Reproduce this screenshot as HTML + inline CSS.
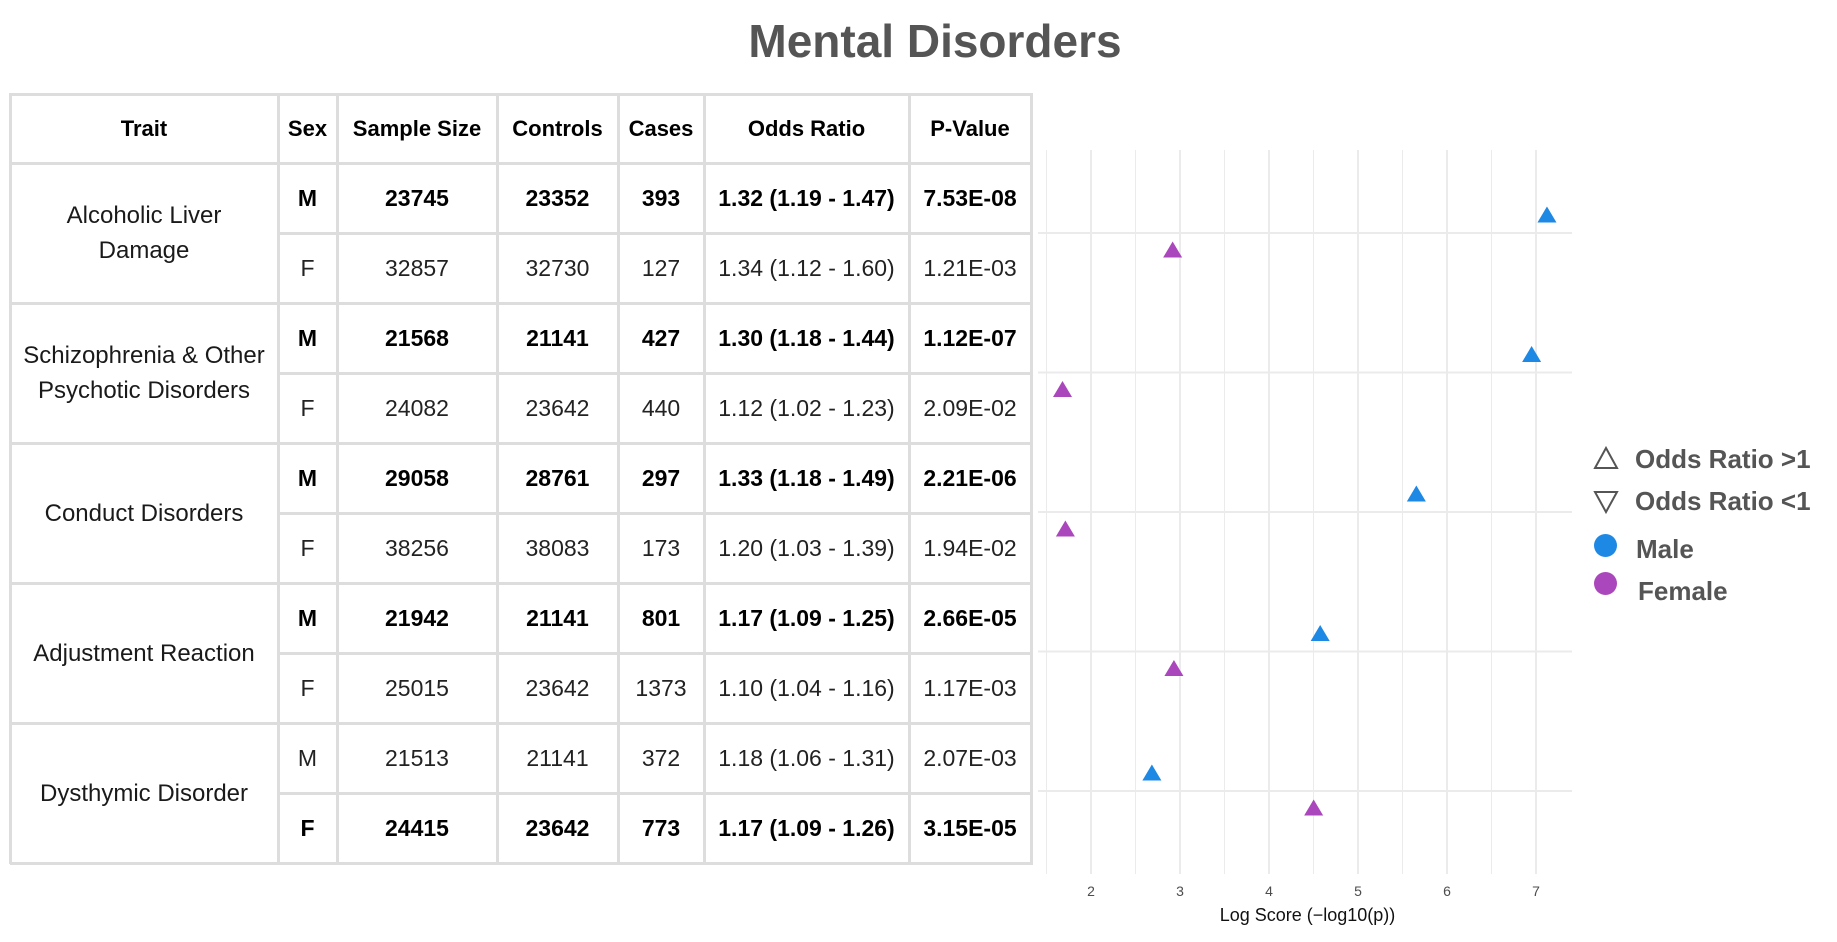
<!DOCTYPE html>
<html><head><meta charset="utf-8">
<style>
html,body{margin:0;padding:0;background:#fff;}
body{width:1837px;height:942px;position:relative;overflow:hidden;font-family:"Liberation Sans",Arial,sans-serif;}
.c{position:absolute;display:flex;align-items:center;justify-content:center;text-align:center;color:#1a1a1a;font-size:23px;box-sizing:border-box;}
.b{font-weight:bold;color:#000;}
.hl{position:absolute;background:#ddd;height:3px;}
.vl{position:absolute;background:#ddd;width:3px;}
</style></head><body>
<div style="position:absolute;left:0;width:1870px;top:14px;text-align:center;font-size:46px;font-weight:bold;color:#555;">Mental Disorders</div>
<div id="tbl"></div>
<svg id="plot" width="1837" height="942" style="position:absolute;left:0;top:0;pointer-events:none;" font-family="Liberation Sans, Arial, sans-serif"></svg>
<div style="position:absolute;left:1590px;top:440px;width:247px;height:170px;color:#555;font-weight:bold;font-size:26px;">
  <div style="position:absolute;left:0;top:0;">
    <svg width="30" height="28" style="position:absolute;left:3px;top:6px"><polygon points="13,2 24,22 2,22" fill="none" stroke="#555" stroke-width="2"/></svg>
    <span style="position:absolute;left:45px;top:4px;white-space:nowrap;">Odds Ratio &gt;1</span></div>
  <div style="position:absolute;left:0;top:42px;">
    <svg width="30" height="28" style="position:absolute;left:3px;top:6px"><polygon points="2,4 24,4 13,24" fill="none" stroke="#555" stroke-width="2"/></svg>
    <span style="position:absolute;left:45px;top:4px;white-space:nowrap;">Odds Ratio &lt;1</span></div>
  <div style="position:absolute;left:0;top:90px;">
    <div style="position:absolute;left:4px;top:4px;width:23px;height:23px;border-radius:50%;background:#1E88E5"></div>
    <span style="position:absolute;left:46px;top:4px;">Male</span></div>
  <div style="position:absolute;left:0;top:130px;">
    <div style="position:absolute;left:4px;top:2px;width:23px;height:23px;border-radius:50%;background:#AB47BC"></div>
    <span style="position:absolute;left:48px;top:6px;">Female</span></div>
</div>
<script>
// ---- data ----
const traits = ["Alcoholic Liver Damage","Schizophrenia & Other Psychotic Disorders","Conduct Disorders","Adjustment Reaction","Dysthymic Disorder"];
const sexes = ["M","F","M","F","M","F","M","F","M","F"];
const sampleSizes = ["23745","32857","21568","24082","29058","38256","21942","25015","21513","24415"];
const controls = ["23352","32730","21141","23642","28761","38083","21141","23642","21141","23642"];
const cases = ["393","127","427","440","297","173","801","1373","372","773"];
const oddsRatios = ["1.32 (1.19 - 1.47)","1.34 (1.12 - 1.60)","1.30 (1.18 - 1.44)","1.12 (1.02 - 1.23)","1.33 (1.18 - 1.49)","1.20 (1.03 - 1.39)","1.17 (1.09 - 1.25)","1.10 (1.04 - 1.16)","1.18 (1.06 - 1.31)","1.17 (1.09 - 1.26)"];
const pValues = ["7.53E-08","1.21E-03","1.12E-07","2.09E-02","2.21E-06","1.94E-02","2.66E-05","1.17E-03","2.07E-03","3.15E-05"];
const boldRows = [true,false,true,false,true,false,true,false,false,true];
const xTicks = [2,3,4,5,6,7];

// ---- table ----
const tbl = document.getElementById('tbl');
const colX = [10,278,337,497,618,704,909,1031];
const top0 = 94, headH = 69, rowH = 70;
const heads = ["Trait","Sex","Sample Size","Controls","Cases","Odds Ratio","P-Value"];
function cell(x0,x1,y0,y1,txt,bold,name){
  const d=document.createElement('div');
  d.className='c'+(bold?' b':'');
  d.style.left=x0+'px';d.style.width=(x1-x0)+'px';d.style.top=y0+'px';d.style.height=(y1-y0)+'px';
  d.textContent=txt;
  
  
  tbl.appendChild(d);return d;
}
heads.forEach((h,i)=>{const d=cell(colX[i],colX[i+1],top0,top0+headH,h,true,'header-'+h.toLowerCase().replace(/\s+/g,'-'));d.style.fontSize='22px';});
const y0r = top0+headH;
traits.forEach((t,i)=>{const d=cell(colX[0]+10,colX[1]-10,y0r+i*2*rowH,y0r+(i+1)*2*rowH,t,false,'trait-cell');d.style.fontSize='24px';d.style.lineHeight='35px';d.style.color='#1a1a1a';});
for(let r=0;r<10;r++){
  const vals=[sexes[r],sampleSizes[r],controls[r],cases[r],oddsRatios[r],pValues[r]];
  vals.forEach((v,j)=>{const d=cell(colX[j+1],colX[j+2],y0r+r*rowH,y0r+(r+1)*rowH,v,boldRows[r],'table-cell');if(!boldRows[r])d.style.color='#222';});
}
function line(cls,l,t,len){const d=document.createElement('div');d.className=cls;d.style.left=l+'px';d.style.top=t+'px';if(cls==='hl')d.style.width=len+'px';else d.style.height=len+'px';


tbl.appendChild(d);}
const bottom=y0r+10*rowH;
line('hl',colX[0],top0-1,colX[7]-colX[0]+2);
line('hl',colX[0],y0r-1,colX[7]-colX[0]+2);
for(let r=1;r<=10;r++){const x0=(r%2===0)?colX[0]:colX[1];line('hl',x0,y0r+r*rowH-1,colX[7]-x0+2);}
colX.forEach(x=>line('vl',x-1,top0-1,bottom-top0+2));

// ---- plot ----
const svg=document.getElementById('plot');
const NS='http://www.w3.org/2000/svg';
const pL=1038,pR=1572,pT=150,pB=874;
const xs=v=>1091+(v-2)*89;
const catY=i=>233+i*139.5;
const dodge=17.5;
function el(tag,attrs,name){const e=document.createElementNS(NS,tag);for(const k in attrs)e.setAttribute(k,attrs[k]);


svg.appendChild(e);return e;}
for(let v=1.5;v<=7.5;v+=0.5){const x=xs(v);if(x<pL||x>pR)continue;const major=Number.isInteger(v);
el('line',{x1:x,x2:x,y1:pT,y2:pB,stroke:'#ebebeb','stroke-width':major?2:1},major?'x-gridline':'x-minor-gridline');}
traits.forEach((t,i)=>el('line',{x1:pL,x2:pR,y1:catY(i),y2:catY(i),stroke:'#ebebeb','stroke-width':2},'y-gridline'));
xTicks.forEach(v=>{const tx=el('text',{x:xs(v),y:896,'text-anchor':'middle','font-size':14,fill:'#4d4d4d'},'x-tick-label');tx.textContent=v;});
const at=el('text',{x:xs(4.5)-6,y:921,'text-anchor':'middle','font-size':18,fill:'#111'},'x-axis-title');at.textContent='Log Score (\u2212log10(p))';
for(let r=0;r<10;r++){
  const v=-Math.log10(parseFloat(pValues[r]));
  const or=parseFloat(oddsRatios[r]);
  const ti=Math.floor(r/2);
  const cy=catY(ti)+(sexes[r]==='M'?-dodge:dodge);
  const cx=xs(v);
  const col=sexes[r]==='M'?'#1E88E5':'#AB47BC';
  const pts=or>=1?`${cx},${cy-9} ${cx+9.5},${cy+7} ${cx-9.5},${cy+7}`:`${cx},${cy+9} ${cx+9.5},${cy-7} ${cx-9.5},${cy-7}`;
  el('polygon',{points:pts,fill:col},sexes[r]==='M'?'point-male':'point-female');
}
</script>
</body></html>
